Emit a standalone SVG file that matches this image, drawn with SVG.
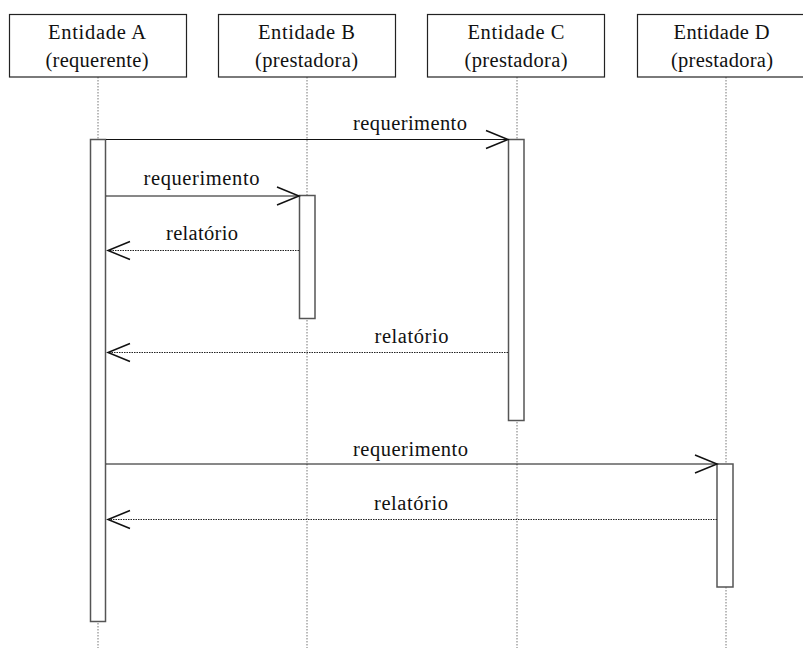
<svg xmlns="http://www.w3.org/2000/svg" width="803" height="648" viewBox="0 0 803 648">
<style>
.box{fill:#fff;stroke:#222;stroke-width:1.2}
.t{font-family:"Liberation Serif","Times New Roman","DejaVu Serif",serif;font-size:20.5px;fill:#111;text-anchor:middle}
.l{font-family:"Liberation Serif","Times New Roman","DejaVu Serif",serif;font-size:20.5px;fill:#111;text-anchor:middle}
.life{stroke:#777;stroke-width:1;stroke-dasharray:1.5,1.5;fill:none}
.act{fill:#fff;stroke:#555;stroke-width:1.5}
.msg{stroke:#111;stroke-width:1;fill:none}
.ret{stroke:#222;stroke-width:1;stroke-dasharray:1.5,1;fill:none}
.head{stroke:#111;stroke-width:1.5;fill:none}
</style>
<rect width="803" height="648" fill="#fff"/>
<g id="lifelines">
<line class="life" x1="98" y1="77" x2="98" y2="648"/>
<line class="life" x1="307" y1="77" x2="307" y2="648"/>
<line class="life" x1="517" y1="77" x2="517" y2="648"/>
<line class="life" x1="726" y1="77" x2="726" y2="648"/>
</g>
<g id="entA">
<rect class="box" x="9.5" y="14.5" width="177" height="62.5"/>
<text class="t" x="97" y="39" textLength="98" lengthAdjust="spacing">Entidade A</text>
<text class="t" x="97" y="67" textLength="103" lengthAdjust="spacing">(requerente)</text>
</g>
<g id="entB">
<rect class="box" x="218.5" y="14.5" width="177" height="62.5"/>
<text class="t" x="306.5" y="39" textLength="97" lengthAdjust="spacing">Entidade B</text>
<text class="t" x="306.5" y="67" textLength="103" lengthAdjust="spacing">(prestadora)</text>
</g>
<g id="entC">
<rect class="box" x="427.5" y="14.5" width="177" height="62.5"/>
<text class="t" x="516" y="39" textLength="97" lengthAdjust="spacing">Entidade C</text>
<text class="t" x="516" y="67" textLength="103" lengthAdjust="spacing">(prestadora)</text>
</g>
<g id="entD">
<rect class="box" x="637.5" y="14.5" width="177" height="62.5"/>
<text class="t" x="721.5" y="39" textLength="96" lengthAdjust="spacing">Entidade D</text>
<text class="t" x="722" y="67" textLength="102" lengthAdjust="spacing">(prestadora)</text>
</g>
<g id="actA"><rect class="act" x="90.5" y="139.5" width="15" height="482"/></g>
<g id="actB"><rect class="act" x="299.5" y="195.5" width="15.5" height="123"/></g>
<g id="actC"><rect class="act" x="508.5" y="139.5" width="15.5" height="281"/></g>
<g id="actD"><rect class="act" x="717" y="464" width="16" height="123"/></g>
<g id="connectors">
<line class="msg" x1="106" y1="139.5" x2="508" y2="139.5"/>
<polyline class="head" points="486,130.5 508,139.5 486,148.5"/>
<text class="l" x="410" y="129.5" textLength="114" lengthAdjust="spacing">requerimento</text>

<line class="msg" x1="106" y1="196" x2="299" y2="196"/>
<polyline class="head" points="277,187 299,196 277,205"/>
<text class="l" x="201.5" y="184.5" textLength="116" lengthAdjust="spacing">requerimento</text>

<line class="ret" x1="299" y1="250.5" x2="108" y2="250.5"/>
<polyline class="head" points="130,241.5 108,250.5 130,259.5"/>
<text class="l" x="202" y="240" textLength="72" lengthAdjust="spacing">relatório</text>

<line class="ret" x1="508" y1="352.5" x2="108" y2="352.5"/>
<polyline class="head" points="130,343.5 108,352.5 130,361.5"/>
<text class="l" x="411.5" y="342.5" textLength="74" lengthAdjust="spacing">relatório</text>

<line class="msg" x1="106" y1="464" x2="717" y2="464"/>
<polyline class="head" points="695,455 717,464 695,473"/>
<text class="l" x="410.5" y="456" textLength="115" lengthAdjust="spacing">requerimento</text>

<line class="ret" x1="717" y1="519.5" x2="108" y2="519.5"/>
<polyline class="head" points="130,510.5 108,519.5 130,528.5"/>
<text class="l" x="411" y="510" textLength="74" lengthAdjust="spacing">relatório</text>
</g>
</svg>
